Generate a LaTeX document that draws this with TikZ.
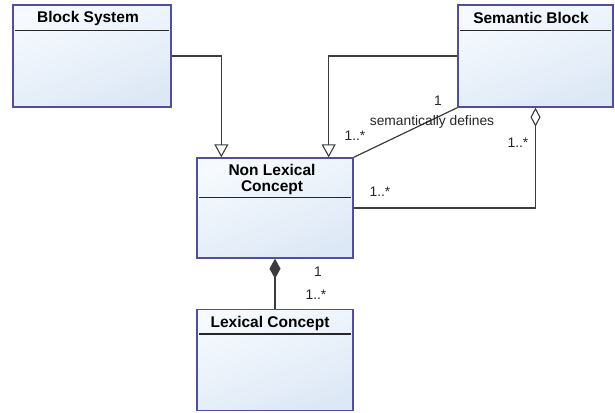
\documentclass[tikz,border=0pt]{standalone}
\usepackage{fontspec}
\setmainfont{Liberation Sans}
\usetikzlibrary{arrows.meta,calc}
\definecolor{boxborder}{HTML}{4F4F9E}
\definecolor{boxtop}{HTML}{F6FAFE}
\definecolor{boxbot}{HTML}{DDE8F6}
\definecolor{linegray}{HTML}{3C3C3C}
\begin{document}
\begin{tikzpicture}[x=1pt,y=-1pt,
  classbox/.style={draw=boxborder,line width=1.3pt,top color=boxtop,bottom color=boxbot,shading angle=20,inner sep=0pt},
  title/.style={font=\fontsize{15.5}{16}\selectfont\bfseries,align=center,inner sep=0pt},
  lab/.style={font=\fontsize{13.8}{15}\selectfont,inner sep=0pt,text=black!85},
  conn/.style={draw=linegray,line width=1.2pt},
  gen/.style={conn,-{Triangle[open,length=13pt,width=14pt,line width=1.1pt]}},
  hdr/.style={draw=black!85,line width=1.3pt}]
\useasboundingbox (0,0) rectangle (615,412);
% boxes
\node[classbox,minimum width=158pt,minimum height=102pt] (bs) at (92,56) {};
\node[classbox,minimum width=155pt,minimum height=102pt] (sb) at (535.5,56) {};
\node[classbox,minimum width=156pt,minimum height=100pt] (nlc) at (275,208) {};
\node[classbox,minimum width=156pt,minimum height=101pt] (lc) at (275,360) {};
% titles
\node[title] (bst) at (88,18) {Block System};
\node[title] (sbt) at (531,18) {Semantic Block};
\node[title] (nlct) at (272,179) {Non Lexical\\Concept};
\node[title] (lct) at (270,323) {Lexical Concept};
% header lines
\draw[hdr] ($(bs.north west)+(3,26)$) -- ($(bs.north east)+(-3,26)$);
\draw[hdr] ($(sb.north west)+(3,26)$) -- ($(sb.north east)+(-3,26)$);
\draw[hdr] ($(nlc.north west)+(3,40)$) -- ($(nlc.north east)+(-3,40)$);
\draw[hdr] ($(lc.north west)+(3,25)$) -- ($(lc.north east)+(-3,25)$);
% generalisations
\draw[gen] (bs.east) -| ($(nlc.north west)+(25,0)$);
\draw[gen] (sb.west) -| ($(nlc.north east)+(-25,0)$);
% association
\draw[conn] (sb.south west) -- (nlc.north east);
% aggregation
\draw[conn,{Diamond[open,length=19pt,width=10pt,line width=1.1pt]}-] (sb.south) |- (nlc.east);
% composition
\draw[conn,{Diamond[length=20pt,width=11pt]}-] (nlc.south) -- (lc.north);
% labels
\node[lab] (l1) at (438,101) {1};
\node[lab] (l2) at (432,122) {semantically defines};
\node[lab] (l3) at (355,136) {1..*};
\node[lab] (l4) at (518,143) {1..*};
\node[lab] (l5) at (380,192) {1..*};
\node[lab] (l6) at (318,272) {1};
\node[lab] (l7) at (316,295) {1..*};
\end{tikzpicture}
\end{document}
